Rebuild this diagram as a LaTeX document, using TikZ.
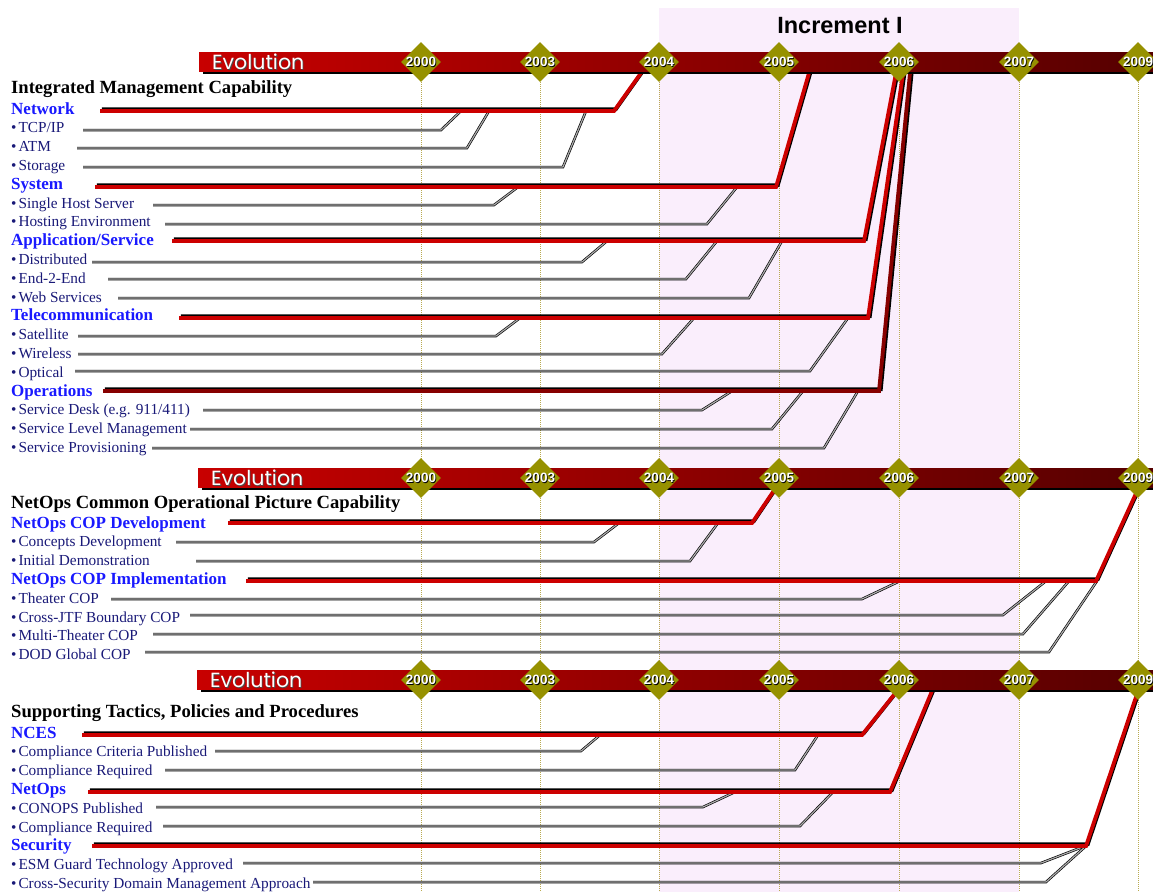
\documentclass[tikz,border=0pt]{standalone}
\usepackage{fontspec}
\setmainfont{Liberation Serif}
\newfontfamily\evofont{Poppins}
\newfontfamily\hfont{Liberation Sans}
\usetikzlibrary{shapes.geometric}

\definecolor{incpink}{RGB}{250,238,252}
\definecolor{linered}{RGB}{205,0,0}
\definecolor{opsred}{RGB}{135,0,0}
\definecolor{yearolive}{RGB}{150,145,0}
\definecolor{dotolive}{RGB}{185,170,80}
\definecolor{catblue}{RGB}{25,25,255}
\definecolor{itemnavy}{RGB}{25,25,120}
\definecolor{barleft}{RGB}{200,0,0}
\definecolor{barright}{RGB}{85,0,0}

\tikzset{
  head/.style={anchor=base west, inner sep=0pt, text=black,
    font=\fontsize{18.6}{18.6}\selectfont\bfseries},
  cat/.style={anchor=base west, inner sep=0pt, text=catblue,
    font=\fontsize{17}{17}\selectfont\bfseries},
  item/.style={anchor=base west, inner sep=0pt, text=itemnavy,
    font=\fontsize{15.3}{15.3}\selectfont},
  redln/.style={line width=3.8pt, line join=miter},
  redsh/.style={line width=3.8pt, line join=miter, draw=black,
    transform canvas={xshift=1.8pt, yshift=1.8pt}},
  subln/.style={draw=black, line width=0.65pt, double=gray!65,
    double distance=1.2pt, line join=miter},
  yearln/.style={draw=dotolive, line width=0.7pt, dash pattern=on 1pt off 1pt},
  yeardia/.style={diamond, fill=yearolive, inner sep=0pt,
    minimum width=40pt, minimum height=40pt},
  yeartxt/.style={inner sep=0pt, text=white,
    font=\hfont\fontsize{13.5}{13.5}\selectfont\bfseries},
  yearsh/.style={yeartxt, text=black},
  evotxt/.style={anchor=west, inner sep=0pt, text=white,
    font=\evofont\fontsize{20.5}{20.5}\selectfont},
  evosh/.style={evotxt, text=black!70},
}

% item connector: name, y, start x, bend x, top point
\newcommand\subl[5]{%
  \coordinate (#1-s) at (#3,#2);
  \coordinate (#1-b) at (#4,#2);
  \coordinate (#1-t) at (#5);
  \draw[subln] (#1-s) -- (#1-b) -- (#1-t);}

% category connector with shadow: name, y, start x, bend x, top x, top y, colour
\newcommand\catl[7]{%
  \coordinate (#1-s) at (#3,#2);
  \coordinate (#1-b) at (#4,#2);
  \coordinate (#1-t) at (#5,#6);
  \draw[redsh] (#1-s) -- (#1-b) -- (#1-t);
  \draw[redln, draw=#7] (#1-s) -- (#1-b) -- (#1-t);}

% timeline bar: index, left x, top y
\newcommand\evobar[3]{%
  \fill[black] ({#2+4},{#3+3}) rectangle (1153,{#3+22});
  \shade[left color=barleft, right color=barright] (#2,#3) rectangle (1153,{#3+19});
  \node[evosh] (evs#1) at ({#2+13.8},{#3+10.8}) {Evolution};
  \node[evotxt] (ev#1) at ({#2+13},{#3+10}) {Evolution};
  \foreach \yr/\x in {2000/421,2003/540,2004/659,2005/779,2006/899,2007/1019,2009/1138}{
    \node[yeardia] (d#1-\yr) at (\x,{#3+10}) {};
    \node[yearsh] (ys#1-\yr) at ({\x+0.9},{#3+10.9}) {\yr};
    \node[yeartxt] (yt#1-\yr) at (\x,{#3+10}) {\yr};
  }}

\begin{document}
\begin{tikzpicture}[x=1pt, y=-1pt]
\useasboundingbox (0,0) rectangle (1153,892);
\fill[white] (0,0) rectangle (1153,892);

% Increment I span
\fill[incpink] (659,8) rectangle (1019,892);
\node[font=\hfont\fontsize{23.5}{23.5}\selectfont\bfseries, inner sep=0pt] (inc) at (840,26) {Increment I};

% year guide lines
\foreach \yr/\x in {2000/421,2003/540,2004/659,2005/779,2006/899,2007/1019,2009/1138}{
  \coordinate (top-\yr) at (\x,80);
  \coordinate (bot-\yr) at (\x,892);
  \draw[yearln] (top-\yr) -- (bot-\yr);
}

% ---------------- Integrated Management Capability ----------------
\node[head] (h1) at (11,93) {Integrated Management Capability};
\node[cat]  (net) at (11,114) {Network};
\node[item] (tcp) at (11,132.8) {\textbullet\kern2pt TCP/IP};
\node[item] (atm) at (11,151.6) {\textbullet\kern2pt ATM};
\node[item] (sto) at (11,170.4) {\textbullet\kern2pt Storage};
\node[cat]  (sys) at (11,189.2) {System};
\node[item] (shs) at (11,208) {\textbullet\kern2pt Single Host Server};
\node[item] (hen) at (11,226.8) {\textbullet\kern2pt Hosting Environment};
\node[cat]  (app) at (11,245.6) {Application/Service};
\node[item] (dis) at (11,264.4) {\textbullet\kern2pt Distributed};
\node[item] (e2e) at (11,283.2) {\textbullet\kern2pt End-2-End};
\node[item] (web) at (11,302) {\textbullet\kern2pt Web Services};
\node[cat]  (tel) at (11,320.8) {Telecommunication};
\node[item] (sat) at (11,339.6) {\textbullet\kern2pt Satellite};
\node[item] (wir) at (11,358.4) {\textbullet\kern2pt Wireless};
\node[item] (opt) at (11,377.2) {\textbullet\kern2pt Optical};
\node[cat]  (ops) at (11,396) {Operations};
\node[item] (sdk) at (11,414.8) {\textbullet\kern2pt Service Desk (e.g. 911/411)};
\node[item] (slm) at (11,433.6) {\textbullet\kern2pt Service Level Management};
\node[item] (spr) at (11,452.4) {\textbullet\kern2pt Service Provisioning};

\subl{ltcp}{130}{83}{441}{461,111}
\subl{latm}{148}{77}{467}{489,111}
\subl{lsto}{167}{83}{563}{586,111}
\subl{lshs}{205}{153}{494}{518,187}
\subl{lhen}{224}{165}{707}{737,187}
\subl{ldis}{262}{92}{582}{607,241}
\subl{le2e}{279}{108}{686}{717,241}
\subl{lweb}{298}{118}{749}{782,241}
\subl{lsat}{336}{78}{496}{520,318}
\subl{lwir}{354}{78}{662}{694,318}
\subl{lopt}{371}{75}{810}{848,318}
\subl{lsdk}{410}{203}{702}{732,391}
\subl{lslm}{429}{190}{772}{803,391}
\subl{lspr}{448}{152}{824}{858,391}

\catl{lnet}{111}{100}{614}{641}{73}{linered}
\catl{lsys}{187}{95}{776}{809}{73}{linered}
\catl{lapp}{241}{172}{864}{896}{73}{linered}
\catl{ltel}{318}{179}{868}{903}{73}{linered}
\catl{lops}{391}{103}{879}{910}{73}{opsred}

% ---------------- NetOps COP ----------------
\node[head] (h2) at (11,508) {NetOps Common Operational Picture Capability};
\node[cat]  (cdv) at (11,528) {NetOps COP Development};
\node[item] (cpt) at (11,546.8) {\textbullet\kern2pt Concepts Development};
\node[item] (idm) at (11,565.6) {\textbullet\kern2pt Initial Demonstration};
\node[cat]  (cim) at (11,584.4) {NetOps COP Implementation};
\node[item] (thc) at (11,603.2) {\textbullet\kern2pt Theater COP};
\node[item] (cjt) at (11,622) {\textbullet\kern2pt Cross-JTF Boundary COP};
\node[item] (mtc) at (11,640.8) {\textbullet\kern2pt Multi-Theater COP};
\node[item] (dgc) at (11,659.6) {\textbullet\kern2pt DOD Global COP};

\subl{lcpt}{542}{176}{594}{619,523}
\subl{lidm}{561}{196}{690}{718,523}
\subl{lthc}{599}{111}{862}{900,581}
\subl{lcjt}{615}{190}{1003}{1046,581}
\subl{lmtc}{634}{153}{1023}{1069,581}
\subl{ldgc}{652}{145}{1049}{1097,581}

\catl{lcdv}{523}{228}{752}{775}{489}{linered}
\catl{lcim}{581}{246}{1096}{1138}{489}{linered}

% ---------------- Supporting TTP ----------------
\node[head] (h3) at (11,717) {Supporting Tactics, Policies and Procedures};
\node[cat]  (nce) at (11,738) {NCES};
\node[item] (ccp) at (11,756.8) {\textbullet\kern2pt Compliance Criteria Published};
\node[item] (cr1) at (11,775.6) {\textbullet\kern2pt Compliance Required};
\node[cat]  (nop) at (11,794.4) {NetOps};
\node[item] (cnp) at (11,813.2) {\textbullet\kern2pt CONOPS Published};
\node[item] (cr2) at (11,832) {\textbullet\kern2pt Compliance Required};
\node[cat]  (sec) at (11,850.8) {Security};
\node[item] (esm) at (11,869.6) {\textbullet\kern2pt ESM Guard Technology Approved};
\node[item] (csd) at (11,888.4) {\textbullet\kern2pt Cross-Security Domain Management Approach};

\subl{lccp}{751}{215}{581}{600,735}
\subl{lcr1}{770}{165}{795}{818,735}
\subl{lcnp}{807}{156}{703}{735,792}
\subl{lcr2}{826}{163}{800}{833,792}
\subl{lesm}{863}{243}{1041}{1085,846}
\subl{lcsd}{882}{313}{1046}{1086,846}

\catl{lnce}{735}{82}{862}{897}{691}{linered}
\catl{lnop}{792}{88}{890}{932}{691}{linered}
\catl{lsec}{846}{92}{1086}{1138}{691}{linered}

% ---------------- timeline bars ----------------
\evobar{1}{199}{52}
\evobar{2}{198}{468}
\evobar{3}{197}{670}
\end{tikzpicture}
\end{document}
